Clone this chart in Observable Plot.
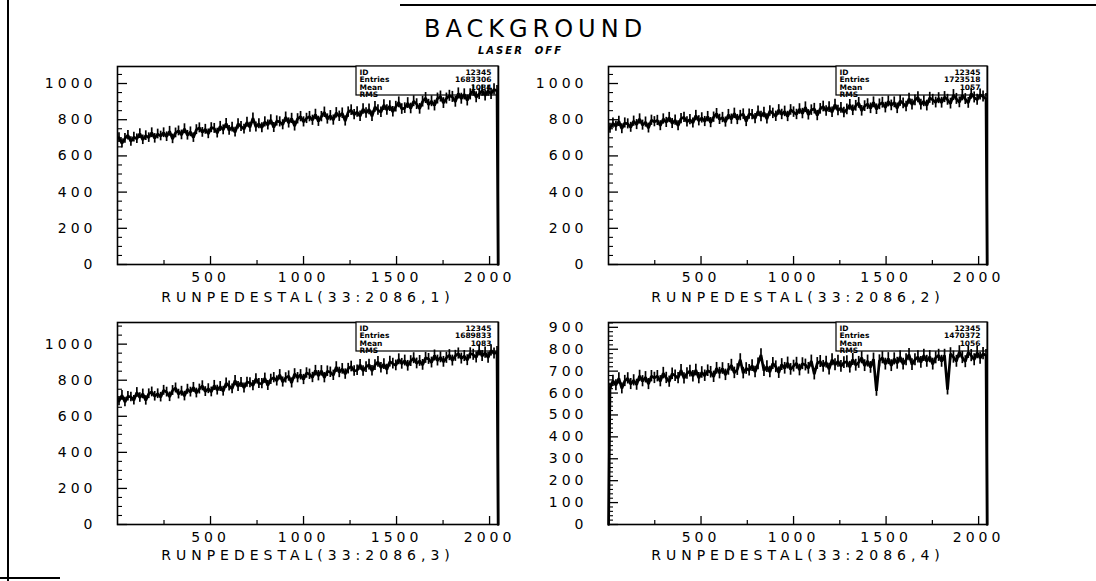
<!DOCTYPE html>
<html><head><meta charset="utf-8">
<script src="https://cdn.jsdelivr.net/npm/d3@7"></script>
<script src="https://cdn.jsdelivr.net/npm/@observablehq/plot@0.6"></script>
<style>
html,body{margin:0;padding:0;background:#fff;}
#page{position:relative;width:1096px;height:581px;overflow:hidden;background:#fff;}
#page svg{position:absolute;left:0;top:0;}
#page svg g[aria-label="x-axis tick label"] text,
#page svg g[aria-label="y-axis tick label"] text{letter-spacing:4px;}
.deco{position:absolute;background:#000;}
.title{position:absolute;font-family:"DejaVu Sans";color:#000;white-space:nowrap;}
</style></head>
<body><div id="page">
<div class="deco" style="left:7px;top:0;width:2px;height:581px"></div>
<div class="deco" style="left:400px;top:4px;width:696px;height:1.5px"></div>
<div class="deco" style="left:0;top:577px;width:60px;height:1.5px"></div>
<div class="title" style="left:424px;top:15px;font-size:24px;font-weight:normal;letter-spacing:5px;">BACKGROUND</div>
<div class="title" style="left:478px;top:45px;font-size:10px;font-weight:bold;font-style:italic;letter-spacing:2px;">LASER&nbsp;&nbsp;OFF</div>
</div>
<script>
// bin centres of the histograms (x axis units)
const xBins = d3.range(8, 2048, 16);
const dropX = 2046;

const panel1 = [
701,669,697,714,680,704,695,723,689,712,701,728,697,721,710,728,
706,736,694,727,738,716,750,714,733,701,745,755,730,747,722,756,
752,726,763,744,779,741,759,731,777,763,748,786,758,808,760,778,
756,788,771,799,757,793,788,772,814,782,807,765,805,817,788,807,
817,797,829,791,817,841,804,822,798,838,819,836,793,842,853,828,
842,819,859,837,857,819,871,854,841,881,854,875,844,872,896,859,
864,892,862,902,886,860,900,920,883,902,878,917,928,892,917,932,
926,899,945,916,940,906,940,961,924,942,961,934,960,943,968,958];

const panel2 = [
753,781,764,791,750,782,777,758,792,773,804,770,787,754,797,789,
796,767,804,785,812,779,798,767,806,813,788,801,782,823,794,810,
790,817,784,814,833,802,812,787,828,803,835,801,823,831,790,831,
828,806,847,818,840,804,848,835,819,854,829,846,818,854,842,829,
859,834,869,827,853,861,823,860,873,848,870,841,884,851,865,840,
857,882,852,877,893,849,875,886,863,896,858,885,894,867,901,879,
896,863,904,890,873,916,883,907,924,883,902,878,921,910,895,919,
894,925,910,889,936,915,896,935,914,893,944,923,910,939,928,914];

const panel3 = [
684,716,679,711,707,689,732,704,724,688,725,735,711,725,706,744,
734,708,743,757,723,739,712,750,734,760,729,751,769,737,753,735,
771,745,765,739,784,768,752,798,765,787,757,789,786,770,808,782,
781,811,771,805,814,796,830,790,813,823,785,835,814,830,804,840,
833,815,853,825,852,814,850,844,827,873,843,863,834,864,876,851,
855,885,851,873,886,852,884,902,869,889,859,903,892,882,916,891,
909,880,906,922,893,907,885,924,918,898,937,909,927,902,924,939,
909,935,948,920,934,911,949,941,926,966,934,953,925,965,948,956];

const panel4 = [
620,656,636,667,621,655,667,641,658,638,678,654,672,641,677,669,
677,654,691,669,652,688,679,668,704,667,689,700,677,705,668,694,
679,702,695,674,713,691,712,683,708,727,692,707,752,691,712,704,
725,696,733,774,702,721,696,735,720,693,730,713,737,708,723,736,
705,734,728,713,746,686,735,744,722,741,709,752,729,745,722,739,
743,718,753,727,740,761,725,746,717,755,610,747,761,732,757,725,
756,736,765,732,752,775,730,752,765,740,772,745,766,732,761,772,
745,772,616,779,764,745,788,762,743,786,771,752,784,759,780,771];

const axisTitles = ["RUNPEDESTAL(33:2086,1)","RUNPEDESTAL(33:2086,2)","RUNPEDESTAL(33:2086,3)","RUNPEDESTAL(33:2086,4)"];
const statLabels = ["ID","Entries","Mean","RMS"];
const statValues = [
  ["12345","1683306","1084",""],
  ["12345","1723518","1057",""],
  ["12345","1689833","1083",""],
  ["12345","1470372","1056",""]];
const xTickLabels = [500,1000,1500,2000];
const xMinorTicks = [250,750,1250,1750];
const yTickLabels1000 = [0,200,400,600,800,1000];
const yTickLabels900 = [0,100,200,300,400,500,600,700,800,900];

const W = 1096, H = 581;
const layout = [
  {values: panel1, ymax:1094, yLabels: yTickLabels1000, minorStep:50, left:117, right:498, top:66, bottom:264, boxLeft:356, lead:false, titleDy:37},
  {values: panel2, ymax:1094, yLabels: yTickLabels1000, minorStep:50, left:608, right:987, top:66, bottom:264, boxLeft:836, lead:false, titleDy:37},
  {values: panel3, ymax:1120, yLabels: yTickLabels1000, minorStep:50, left:117, right:498, top:322, bottom:524, boxLeft:356, lead:false, titleDy:35},
  {values: panel4, ymax:922,  yLabels: yTickLabels900,  minorStep:20, left:608, right:987, top:322, bottom:524, boxLeft:836, lead:true, titleDy:35}
];

const page = document.getElementById("page");
const FONT = "DejaVu Sans";

layout.forEach((p, k) => {
  const fw = p.right - p.left, fh = p.bottom - p.top;
  const bins = p.values.map((v, i) => ({x: xBins[i], y: v}));
  const pts = [];
  if (p.lead) pts.push({x: 0.5, y: 0});
  pts.push(...bins);
  pts.push({x: dropX, y: 0});
  const yMinor = d3.range(0, p.ymax, p.minorStep).filter(v => !p.yLabels.includes(v));

  const marks = [
    Plot.frame({stroke: "#000", strokeWidth: 1.6}),
    Plot.ruleX(xTickLabels, {x: d => d, stroke: "#000", strokeWidth: 1.3, insetTop: fh - 8}),
    Plot.ruleX(xMinorTicks, {x: d => d, stroke: "#000", strokeWidth: 1.2, insetTop: fh - 4}),
    Plot.ruleY(p.yLabels, {y: d => d, stroke: "#000", strokeWidth: 1.3, insetRight: fw - 10}),
    Plot.ruleY(yMinor, {y: d => d, stroke: "#000", strokeWidth: 1.1, insetRight: fw - 5}),
    Plot.axisX({ticks: xTickLabels, tickSize: 0, tickPadding: 8, tickFormat: d => String(d), label: null, fontSize: 14, fontFamily: FONT}),
    Plot.axisY({ticks: p.yLabels, tickSize: 0, tickPadding: 21, tickFormat: d => String(d), label: null, fontSize: 14, fontFamily: FONT}),
    Plot.text([axisTitles[k]], {frameAnchor: "bottom", dy: p.titleDy, text: d => d, fontSize: 14, fontFamily: FONT}),
    Plot.rect([0], {x1: () => 0, x2: () => 2048, y1: () => 0, y2: () => p.ymax,
      insetLeft: p.boxLeft - p.left, insetBottom: fh - 29, fill: "white", stroke: "#000", strokeWidth: 1.2})
  ];
  statLabels.forEach((lab, r) => {
    const dy = 3 + r * 7.5;
    marks.push(Plot.text([lab], {frameAnchor: "top-left", dx: p.boxLeft - p.left + 3, dy, text: d => d,
      textAnchor: "start", lineAnchor: "top", fontSize: 7.5, fontWeight: "bold", fontFamily: FONT}));
    marks.push(Plot.text([statValues[k][r]], {frameAnchor: "top-right", dx: -7, dy, text: d => d,
      textAnchor: "end", lineAnchor: "top", fontSize: 7.5, fontWeight: "bold", fontFamily: FONT}));
  });
  // Poisson error bars (sqrt of bin content) and the histogram line
  marks.push(Plot.ruleX(bins, {x: "x", y1: d => d.y - Math.sqrt(d.y), y2: d => d.y + Math.sqrt(d.y), stroke: "#000", strokeWidth: 1.7}));
  marks.push(Plot.line(pts, {x: "x", y: "y", stroke: "#000", strokeWidth: 2.7, strokeLinejoin: "miter"}));

  const svg = Plot.plot({
    width: W, height: H,
    marginLeft: p.left, marginRight: W - p.right, marginTop: p.top, marginBottom: H - p.bottom,
    x: {domain: [0, 2048]},
    y: {domain: [0, p.ymax]},
    style: {background: "transparent", fontFamily: FONT, overflow: "visible", color: "#000"},
    marks
  });
  svg.querySelectorAll("text").forEach(t => {
    if (t.textContent.startsWith("RUNPEDESTAL")) t.style.letterSpacing = "5px";
  });
  page.appendChild(svg);
});
</script>
</body></html>
